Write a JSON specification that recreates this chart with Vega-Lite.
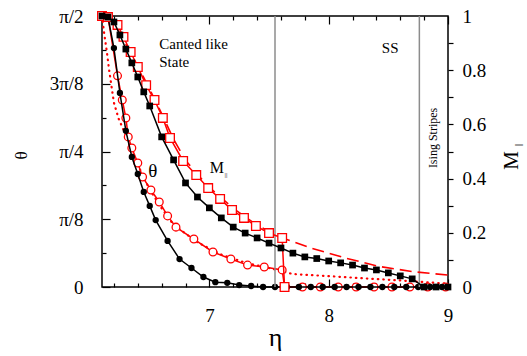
{
  "$schema": "https://vega.github.io/schema/vega-lite/v6.json",
  "width": 346,
  "height": 271,
  "autosize": {"type": "none"},
  "padding": {"left": 102, "top": 16, "right": 79, "bottom": 69},
  "config": {
    "font": "'Liberation Serif', 'Times New Roman', serif",
    "text": {"font": "'Liberation Serif', 'Times New Roman', serif"},
    "view": {"stroke": "black", "strokeWidth": 1.5},
    "axis": {"grid": false, "domain": false, "labelFont": "'Liberation Serif', 'Times New Roman', serif", "titleFont": "'Liberation Serif', 'Times New Roman', serif", "labelColor": "black", "titleColor": "black", "tickColor": "black", "tickWidth": 1.2, "labelFontSize": 19, "titleFontWeight": "normal", "labelFlush": false, "labelOverlap": false}
  },
  "datasets": {
    "thetaBlack": [
      {"eta": 6.10, "theta": 1.571}, {"eta": 6.15, "theta": 1.565}, {"eta": 6.20, "theta": 1.385}, {"eta": 6.25, "theta": 1.125},
      {"eta": 6.30, "theta": 0.905}, {"eta": 6.35, "theta": 0.754}, {"eta": 6.40, "theta": 0.655}, {"eta": 6.45, "theta": 0.551},
      {"eta": 6.50, "theta": 0.470}, {"eta": 6.55, "theta": 0.388}, {"eta": 6.65, "theta": 0.267}, {"eta": 6.75, "theta": 0.162},
      {"eta": 6.85, "theta": 0.110}, {"eta": 6.95, "theta": 0.058}, {"eta": 7.05, "theta": 0.028}, {"eta": 7.15, "theta": 0.024},
      {"eta": 7.25, "theta": 0.011}, {"eta": 7.35, "theta": 0.006}, {"eta": 7.45, "theta": 0}, {"eta": 7.55, "theta": 0},
      {"eta": 7.65, "theta": 0}, {"eta": 7.75, "theta": 0}, {"eta": 7.85, "theta": 0}, {"eta": 7.95, "theta": 0},
      {"eta": 8.05, "theta": 0}, {"eta": 8.15, "theta": 0}, {"eta": 8.25, "theta": 0}, {"eta": 8.35, "theta": 0},
      {"eta": 8.45, "theta": 0}, {"eta": 8.55, "theta": 0}, {"eta": 8.65, "theta": 0}, {"eta": 8.75, "theta": 0},
      {"eta": 8.85, "theta": 0}, {"eta": 8.95, "theta": 0}
    ],
    "thetaRed": [
      {"eta": 6.10, "theta": 1.571}, {"eta": 6.15, "theta": 1.565}, {"eta": 6.23, "theta": 1.224}, {"eta": 6.27, "theta": 1.084},
      {"eta": 6.30, "theta": 0.980}, {"eta": 6.32, "theta": 0.870}, {"eta": 6.35, "theta": 0.806}, {"eta": 6.40, "theta": 0.719},
      {"eta": 6.44, "theta": 0.638}, {"eta": 6.51, "theta": 0.562}, {"eta": 6.58, "theta": 0.493}, {"eta": 6.65, "theta": 0.412},
      {"eta": 6.72, "theta": 0.347}, {"eta": 6.87, "theta": 0.278}, {"eta": 7.03, "theta": 0.203}, {"eta": 7.18, "theta": 0.162},
      {"eta": 7.32, "theta": 0.127}, {"eta": 7.46, "theta": 0.116}, {"eta": 7.61, "theta": 0.099}, {"eta": 7.63, "theta": 0},
      {"eta": 7.78, "theta": 0}, {"eta": 7.93, "theta": 0}, {"eta": 8.08, "theta": 0}, {"eta": 8.23, "theta": 0},
      {"eta": 8.38, "theta": 0}, {"eta": 8.53, "theta": 0}, {"eta": 8.68, "theta": 0}, {"eta": 8.83, "theta": 0},
      {"eta": 8.98, "theta": 0}
    ],
    "thetaFit": [
      {"eta": 6.10, "theta": 1.571}, {"eta": 6.12, "theta": 1.461}, {"eta": 6.14, "theta": 1.367}, {"eta": 6.16, "theta": 1.257},
      {"eta": 6.18, "theta": 1.162}, {"eta": 6.20, "theta": 1.068}, {"eta": 6.24, "theta": 0.974}, {"eta": 6.30, "theta": 0.880},
      {"eta": 6.35, "theta": 0.785}, {"eta": 6.40, "theta": 0.707}, {"eta": 6.50, "theta": 0.565}, {"eta": 6.60, "theta": 0.456},
      {"eta": 6.70, "theta": 0.361}, {"eta": 6.90, "theta": 0.259}, {"eta": 7.10, "theta": 0.188}, {"eta": 7.30, "theta": 0.141},
      {"eta": 7.50, "theta": 0.110}, {"eta": 7.70, "theta": 0.075}, {"eta": 8.00, "theta": 0.063}, {"eta": 8.30, "theta": 0.050},
      {"eta": 8.60, "theta": 0.038}, {"eta": 9.00, "theta": 0.019}
    ],
    "mBlack": [
      {"eta": 6.10, "M": 1.0}, {"eta": 6.15, "M": 0.996}, {"eta": 6.20, "M": 0.978}, {"eta": 6.25, "M": 0.930},
      {"eta": 6.30, "M": 0.878}, {"eta": 6.35, "M": 0.827}, {"eta": 6.40, "M": 0.775}, {"eta": 6.45, "M": 0.720},
      {"eta": 6.50, "M": 0.668}, {"eta": 6.60, "M": 0.554}, {"eta": 6.70, "M": 0.469}, {"eta": 6.80, "M": 0.384},
      {"eta": 6.90, "M": 0.332}, {"eta": 7.00, "M": 0.292}, {"eta": 7.10, "M": 0.255}, {"eta": 7.20, "M": 0.221},
      {"eta": 7.30, "M": 0.199}, {"eta": 7.40, "M": 0.181}, {"eta": 7.50, "M": 0.162}, {"eta": 7.60, "M": 0.144},
      {"eta": 7.70, "M": 0.125}, {"eta": 7.80, "M": 0.111}, {"eta": 7.90, "M": 0.105}, {"eta": 8.00, "M": 0.096},
      {"eta": 8.10, "M": 0.089}, {"eta": 8.20, "M": 0.081}, {"eta": 8.30, "M": 0.070}, {"eta": 8.40, "M": 0.063},
      {"eta": 8.50, "M": 0.052}, {"eta": 8.60, "M": 0.041}, {"eta": 8.70, "M": 0.030}, {"eta": 8.80, "M": 0},
      {"eta": 8.90, "M": 0}, {"eta": 9.00, "M": 0}
    ],
    "mRed": [
      {"eta": 6.10, "M": 1.0}, {"eta": 6.15, "M": 0.996}, {"eta": 6.23, "M": 0.967}, {"eta": 6.28, "M": 0.923},
      {"eta": 6.34, "M": 0.867}, {"eta": 6.40, "M": 0.812}, {"eta": 6.47, "M": 0.745}, {"eta": 6.54, "M": 0.690},
      {"eta": 6.61, "M": 0.624}, {"eta": 6.67, "M": 0.550}, {"eta": 6.78, "M": 0.465}, {"eta": 6.89, "M": 0.413},
      {"eta": 6.99, "M": 0.365}, {"eta": 7.09, "M": 0.325}, {"eta": 7.19, "M": 0.284}, {"eta": 7.29, "M": 0.255},
      {"eta": 7.39, "M": 0.225}, {"eta": 7.50, "M": 0.199}, {"eta": 7.61, "M": 0.181}, {"eta": 7.63, "M": 0}
    ],
    "mFit": [
      {"eta": 6.12, "M": 1.0}, {"eta": 6.20, "M": 0.975}, {"eta": 6.30, "M": 0.895}, {"eta": 6.40, "M": 0.815},
      {"eta": 6.50, "M": 0.730}, {"eta": 6.60, "M": 0.640}, {"eta": 6.70, "M": 0.545}, {"eta": 6.80, "M": 0.468},
      {"eta": 6.90, "M": 0.415}, {"eta": 7.00, "M": 0.368}, {"eta": 7.20, "M": 0.290}, {"eta": 7.40, "M": 0.228},
      {"eta": 7.60, "M": 0.183}, {"eta": 7.85, "M": 0.144}, {"eta": 8.14, "M": 0.107}, {"eta": 8.42, "M": 0.076},
      {"eta": 8.70, "M": 0.057}, {"eta": 9.00, "M": 0.044}
    ],
    "phases": [{"eta": 7.55}, {"eta": 8.76}],
    "annotations": [
      {"eta": 6.58, "M": 0.878, "text": "Canted like"},
      {"eta": 6.58, "M": 0.812, "text": "State"},
      {"eta": 8.445, "M": 0.863, "text": "SS"},
      {"eta": 8.908, "M": 0.55, "text": "Ising Stripes"},
      {"eta": 6.525, "M": 0.428, "text": "θ"},
      {"eta": 7.063, "M": 0.439, "text": "M"},
      {"eta": 7.139, "M": 0.413, "text": "||"},
      {"eta": 9.613, "M": 0.524, "text": "|| "}
    ]
  },
  "layer": [
    {
      "layer": [
        {
          "data": {"name": "thetaFit"},
          "mark": {"type": "line", "color": "#ff0000", "strokeWidth": 2.2, "strokeDash": [0.5, 5], "strokeCap": "round"},
          "encoding": {
            "x": {"field": "eta", "type": "quantitative", "scale": {"domain": [6.1, 9], "nice": false, "zero": false},
                  "axis": {"orient": "bottom", "values": [6.2, 6.4, 6.6, 6.8, 7.2, 7.4, 7.6, 7.8, 8.2, 8.4, 8.6, 8.8], "labels": false, "tickSize": -4, "title": null}},
            "y": {"field": "theta", "type": "quantitative", "scale": {"domain": [0, 1.5708], "nice": false, "zero": true},
                  "axis": {"orient": "left", "values": [0.19635, 0.58905, 0.98175, 1.37445], "labels": false, "tickSize": -4, "title": null}}
          }
        },
        {
          "data": {"name": "thetaRed"},
          "mark": {"type": "line", "color": "#ff0000", "strokeWidth": 1.5, "point": {"filled": false, "fill": "white", "shape": "circle", "size": 60, "stroke": "#ff0000", "strokeWidth": 1.3}},
          "encoding": {
            "x": {"field": "eta", "type": "quantitative", "scale": {"domain": [6.1, 9], "nice": false, "zero": false},
                  "axis": {"orient": "bottom", "values": [7, 8, 9], "labels": false, "tickSize": -8, "title": null}},
            "y": {"field": "theta", "type": "quantitative", "scale": {"domain": [0, 1.5708], "nice": false, "zero": true},
                  "axis": {"orient": "left", "values": [0, 0.3927, 0.7854, 1.1781, 1.5708], "labels": false, "tickSize": -8, "title": null}}
          }
        },
        {
          "data": {"name": "thetaBlack"},
          "mark": {"type": "line", "color": "black", "strokeWidth": 1.5, "point": {"filled": true, "shape": "circle", "size": 40, "color": "black"}},
          "encoding": {
            "x": {"field": "eta", "type": "quantitative", "scale": {"domain": [6.1, 9], "nice": false, "zero": false},
                  "axis": {"orient": "bottom", "values": [7, 8, 9], "ticks": false, "labelPadding": 19, "labelFontSize": 19, "labelFont": "'Liberation Serif', 'Times New Roman', serif", "title": "η", "titleFont": "'Liberation Serif', 'Times New Roman', serif", "titleFontSize": 26, "titleX": 173, "titleY": 58, "titleAlign": "center", "titleBaseline": "alphabetic", "titleAngle": 0}},
            "y": {"field": "theta", "type": "quantitative", "scale": {"domain": [0, 1.5708], "nice": false, "zero": true},
                  "axis": {"orient": "left", "values": [0, 0.3927, 0.7854, 1.1781, 1.5708], "ticks": false, "labelPadding": 19, "labelFontSize": 19, "labelFont": "'Liberation Serif', 'Times New Roman', serif",
                           "labelExpr": "['0','π/8','π/4','3π/8','π/2'][round(datum.value/0.3927)]",
                           "title": "θ", "titleFont": "'Liberation Serif', 'Times New Roman', serif", "titleFontSize": 17, "titleAngle": -90, "titleX": -81, "titleY": 139, "titleAlign": "center", "titleBaseline": "middle"}}
          }
        }
      ],
      "resolve": {"axis": {"x": "independent", "y": "independent"}}
    },
    {
      "layer": [
        {
          "data": {"name": "phases"},
          "mark": {"type": "rule", "color": "#8c8c8c", "strokeWidth": 1.5},
          "encoding": {
            "x": {"field": "eta", "type": "quantitative", "scale": {"domain": [6.1, 9], "nice": false, "zero": false}, "axis": null}
          }
        },
        {
          "data": {"name": "mFit"},
          "mark": {"type": "line", "color": "#ff0000", "strokeWidth": 1.6, "strokeDash": [12, 6]},
          "encoding": {
            "x": {"field": "eta", "type": "quantitative", "scale": {"domain": [6.1, 9], "nice": false, "zero": false}, "axis": null},
            "y": {"field": "M", "type": "quantitative", "scale": {"domain": [0, 1], "nice": false}, "axis": null}
          }
        },
        {
          "data": {"name": "mRed"},
          "mark": {"type": "line", "color": "#ff0000", "strokeWidth": 1.5, "point": {"filled": false, "fill": "white", "shape": "square", "size": 75, "stroke": "#ff0000", "strokeWidth": 1.3}},
          "encoding": {
            "x": {"field": "eta", "type": "quantitative", "scale": {"domain": [6.1, 9], "nice": false, "zero": false},
                  "axis": {"orient": "top", "values": [6.2, 6.4, 6.6, 6.8, 7.2, 7.4, 7.6, 7.8, 8.2, 8.4, 8.6, 8.8], "labels": false, "tickSize": -4, "title": null}},
            "y": {"field": "M", "type": "quantitative", "scale": {"domain": [0, 1], "nice": false},
                  "axis": {"orient": "right", "values": [0.1, 0.2, 0.3, 0.4, 0.5, 0.6, 0.7, 0.8, 0.9], "labels": false, "tickSize": 5, "title": null}}
          }
        },
        {
          "data": {"name": "mBlack"},
          "mark": {"type": "line", "color": "black", "strokeWidth": 1.5, "point": {"filled": true, "shape": "square", "size": 45, "color": "black"}},
          "encoding": {
            "x": {"field": "eta", "type": "quantitative", "scale": {"domain": [6.1, 9], "nice": false, "zero": false},
                  "axis": {"orient": "top", "values": [7, 8, 9], "labels": false, "tickSize": -8, "title": null}},
            "y": {"field": "M", "type": "quantitative", "scale": {"domain": [0, 1], "nice": false},
                  "axis": {"orient": "right", "values": [0, 0.2, 0.4, 0.6, 0.8, 1], "format": "~g", "ticks": false, "labelPadding": 14, "labelFontSize": 19, "labelFont": "'Liberation Serif', 'Times New Roman', serif",
                           "title": "M", "titleFont": "'Liberation Serif', 'Times New Roman', serif", "titleFontSize": 21, "titleAngle": -90, "titleX": 69, "titleY": 144, "titleAlign": "center", "titleBaseline": "alphabetic"}}
          }
        },
        {
          "data": {"name": "annotations"},
          "transform": [{"filter": "datum.text === 'Canted like' || datum.text === 'State' || datum.text === 'SS'"}],
          "mark": {"type": "text", "fontSize": 15, "align": "left", "baseline": "alphabetic", "color": "black", "font": "'Liberation Serif', 'Times New Roman', serif"},
          "encoding": {
            "x": {"field": "eta", "type": "quantitative", "scale": {"domain": [6.1, 9], "nice": false, "zero": false}, "axis": null},
            "y": {"field": "M", "type": "quantitative", "scale": {"domain": [0, 1], "nice": false}, "axis": null},
            "text": {"field": "text"}
          }
        },
        {
          "data": {"name": "annotations"},
          "transform": [{"filter": "datum.text === 'Ising Stripes'"}],
          "mark": {"type": "text", "fontSize": 12, "align": "center", "baseline": "alphabetic", "angle": 270, "color": "black", "font": "'Liberation Serif', 'Times New Roman', serif"},
          "encoding": {
            "x": {"field": "eta", "type": "quantitative", "scale": {"domain": [6.1, 9], "nice": false, "zero": false}, "axis": null},
            "y": {"field": "M", "type": "quantitative", "scale": {"domain": [0, 1], "nice": false}, "axis": null},
            "text": {"field": "text"}
          }
        },
        {
          "data": {"name": "annotations"},
          "transform": [{"filter": "datum.text === 'θ'"}],
          "mark": {"type": "text", "fontSize": 19, "align": "center", "baseline": "middle", "color": "black", "font": "'Liberation Serif', 'Times New Roman', serif"},
          "encoding": {
            "x": {"field": "eta", "type": "quantitative", "scale": {"domain": [6.1, 9], "nice": false, "zero": false}, "axis": null},
            "y": {"field": "M", "type": "quantitative", "scale": {"domain": [0, 1], "nice": false}, "axis": null},
            "text": {"field": "text"}
          }
        },
        {
          "data": {"name": "annotations"},
          "transform": [{"filter": "datum.text === 'M'"}],
          "mark": {"type": "text", "fontSize": 16, "align": "center", "baseline": "middle", "color": "black", "font": "'Liberation Serif', 'Times New Roman', serif"},
          "encoding": {
            "x": {"field": "eta", "type": "quantitative", "scale": {"domain": [6.1, 9], "nice": false, "zero": false}, "axis": null},
            "y": {"field": "M", "type": "quantitative", "scale": {"domain": [0, 1], "nice": false}, "axis": null},
            "text": {"field": "text"}
          }
        },
        {
          "data": {"name": "annotations"},
          "transform": [{"filter": "datum.text === '||'"}],
          "mark": {"type": "text", "fontSize": 7, "align": "center", "baseline": "middle", "color": "black", "font": "'Liberation Serif', 'Times New Roman', serif"},
          "encoding": {
            "x": {"field": "eta", "type": "quantitative", "scale": {"domain": [6.1, 9], "nice": false, "zero": false}, "axis": null},
            "y": {"field": "M", "type": "quantitative", "scale": {"domain": [0, 1], "nice": false}, "axis": null},
            "text": {"field": "text"}
          }
        },
        {
          "data": {"name": "annotations"},
          "transform": [{"filter": "datum.text === '|| '"}],
          "mark": {"type": "text", "fontSize": 8, "align": "center", "baseline": "alphabetic", "angle": 270, "color": "black", "font": "'Liberation Serif', 'Times New Roman', serif"},
          "encoding": {
            "x": {"field": "eta", "type": "quantitative", "scale": {"domain": [6.1, 9], "nice": false, "zero": false}, "axis": null},
            "y": {"field": "M", "type": "quantitative", "scale": {"domain": [0, 1], "nice": false}, "axis": null},
            "text": {"field": "text"}
          }
        }
      ],
      "resolve": {"axis": {"x": "independent", "y": "independent"}}
    }
  ],
  "resolve": {"scale": {"y": "independent"}, "axis": {"x": "independent", "y": "independent"}}
}
